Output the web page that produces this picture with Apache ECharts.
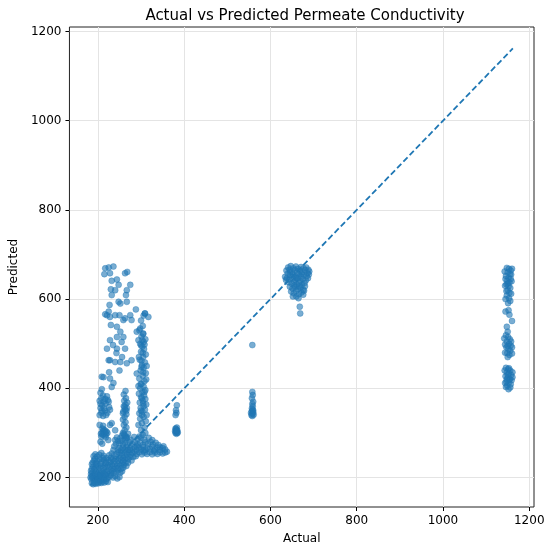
<!DOCTYPE html>
<html>
<head>
<meta charset="utf-8">
<script src="https://cdn.jsdelivr.net/npm/echarts@6/dist/echarts.min.js"></script>
<style>
	html, body { margin: 0; padding: 0; background: #fff; }
	#chart { width: 550px; height: 552px; }
</style>
</head>
<body>
<div id="chart"></div>
<script>
// [actual, predicted] pairs
var lowBand = [
	[186,187],[189,185],[192,188],[195,186],[198,189],[201,187],[204,190],[208,188],[211,191],[215,189],[219,192],[223,190],
	[185,196],[188,199],[191,195],[194,198],[197,201],[200,197],[203,200],[207,203],[210,198],[214,201],[218,204],[222,199],[226,202],[230,205],[235,200],[240,203],[245,198],[250,201],
	[184,208],[187,211],[190,206],[193,210],[196,213],[199,208],[202,212],[206,209],[209,214],[213,210],[217,213],[221,209],[225,214],[229,211],[233,215],[237,210],[242,213],[247,216],[252,211],[256,214],
	[186,220],[189,224],[192,219],[196,223],[200,226],[204,221],[208,225],[212,222],[216,227],[220,223],[224,228],[228,224],[232,229],[236,225],[240,230],[244,226],[248,231],[252,227],[256,232],[260,228],[264,233],
	[188,234],[191,238],[195,233],[199,237],[204,241],[209,236],[214,240],[219,235],[224,239],[229,236],[234,241],[238,237],[242,242],[246,238],[250,243],[254,239],[258,244],[262,240],[266,245],[270,241],[274,246],
	[190,248],[194,252],[198,247],[203,251],[208,255],[213,249],[226,250],[232,254],[238,249],[243,253],[248,257],[252,251],[256,255],[260,250],[264,256],[268,252],[272,257],[276,251],[280,255],[285,258],[290,253],[296,257],[302,252],[308,256],[314,253],[320,257],[326,252],[332,256],[338,253],[344,257],[350,254],[356,256],
	[246,262],[250,266],[254,261],[258,267],[262,263],[266,268],[270,262],[275,266],[280,263],[285,268],[290,262],[295,267],[300,263],[305,268],[310,262],[315,266],[320,264],[326,269],[332,263],[338,267],[344,262],[350,266],[356,263],[360,258],
	[258,274],[263,278],[268,273],[274,279],[280,275],[286,279],[292,274],[298,278],[304,273],[310,279],[316,275],[322,280],[328,274],[334,278],[340,273],
	[262,286],[268,290],[276,285],[284,291],[292,286],[300,290],[308,285],[318,289],[326,284],
	[238,270],[242,276],[247,282],[252,288],[256,294],[244,290],[236,262],[240,284],[250,276],[255,282],[260,298],[265,292],[270,298],
	[198,195],[206,194],[213,196],[220,197],[186,203],[205,205],[216,207],[231,218],[239,219],[246,221],[254,220],[259,222],[266,226],[270,233],[278,238],[282,246],[288,248],
	[196,229],[206,231],[218,232],[230,244],[258,236],[274,262],[290,270],[306,260],[330,260],[344,268],[352,270],[212,244],[220,244],[193,242],[186,230],[184,215],[183,200]
];
var lowColumns = [
	[208,292],[211,296],[214,299],[217,302],[212,304],[209,300],[215,294],[219,297],[213,308],[216,306],[210,310],[220,303],[218,290],[222,300],[207,298],
	[206,280],[210,276],[224,284],[228,318],[232,322],[240,306],[204,318],[212,316],
	[204,340],[208,345],[212,338],[216,350],[206,356],[210,362],[214,355],[218,366],[222,345],[226,358],[204,372],[208,378],[213,370],[217,376],[221,382],[225,370],[209,350],[219,340],[223,374],[228,352],[206,365],
	[206,390],[209,398],[212,384],
	[258,300],[262,306],[266,312],[260,318],[264,324],[258,330],[262,336],[266,342],[259,348],[263,352],[267,356],[260,360],[264,364],[268,368],[261,372],[265,378],[258,344],[266,350],[262,358],[260,386],[264,394],[266,288],[262,294],
	[296,292],[304,296],[310,300],[300,306],[308,312],[294,318],[302,322],[311,326],[298,332],[306,336],[313,340],[296,344],[303,348],[309,352],[299,356],[306,360],[312,364],[297,368],[304,372],[310,376],[300,380],[307,384],[295,388],[303,392],[310,396],[298,400],[306,404],[301,410],[308,416],[296,422],[304,428],[311,434],[299,440],[306,446],[302,452],[309,458],[297,464],[305,470],[311,476],[300,482],[307,488],[303,494],[298,500],[306,504],[310,510],[301,516],[305,522],[296,530],[304,540],[300,552],[306,563],[309,568],
	[302,340],[300,350],[305,366],[302,378],[308,392],[299,410],[305,436],[301,462],[304,480],[300,496],[308,498],[303,508],[295,470],[313,450],[312,420],[294,405]
];
var highScatter = [
	[217,669],[225,671],[236,673],[215,656],[228,658],[263,658],[268,661],[232,641],[244,644],[248,632],[275,632],[230,622],[240,620],[267,620],[232,609],[265,609],
	[248,594],[252,590],[267,594],[227,587],[225,572],[221,564],[217,566],[228,560],[240,564],[250,564],[263,557],[275,564],[278,553],[288,577],[309,568],[317,560],
	[230,542],[244,538],[252,527],[259,515],[244,515],[259,553],[290,527],[298,534],[305,523],[294,508],[228,508],[235,497],[255,504],[263,489],[221,489],[244,489],
	[228,463],[240,459],[252,459],[267,456],[278,463],[225,463],[209,426],[228,422],[290,433],[301,448],
	[243,479],[213,425],[232,403],[236,412],[250,440],[226,436],[256,470]
];
var cluster380 = [
	[380,300],[382,303],[384,306],[381,309],[383,312],[379,304],[385,301],[382,298],[380,310],[384,300],[381,306],[383,304],[380,340],[382,345],[381,351],[383,362]
];
var cluster560 = [
	[556,340],[558,343],[560,346],[557,349],[559,352],[561,341],[555,345],[558,338],[560,350],[557,355],[559,360],[558,365],[560,370],[557,378],[559,385],[558,392],[558,497]
];
var cluster650 = [
	[641,671],[647,674],[653,669],[659,673],[664,668],[671,672],[677,669],[683,671],[688,666],
	[637,664],[644,666],[650,661],[656,665],[662,659],[668,664],[674,661],[680,665],[686,658],[690,662],
	[640,657],[646,653],[652,656],[658,651],[665,655],[671,650],[677,654],[684,651],[689,655],
	[638,647],[644,644],[651,648],[657,643],[663,646],[669,641],[675,645],[682,642],[687,647],
	[642,638],[649,635],[655,639],[661,633],[667,637],[673,632],[679,636],
	[645,628],[651,624],[658,627],[664,622],[670,626],[676,621],[680,629],
	[648,617],[654,613],[660,618],[666,611],[672,615],[678,619],
	[652,606],[660,606],[665,602],[676,610],[668,583],[669,568],[636,643],[634,650],
	[645,660],[660,647],[672,657],[655,630],[666,629]
];
var cluster1150 = [
	[1148,670],[1153,668],[1157,664],[1150,660],[1155,656],[1146,652],[1152,648],[1157,645],[1149,641],[1154,637],[1147,633],[1152,629],[1156,625],[1150,620],[1154,614],[1148,608],[1153,602],[1156,596],[1151,591],[1145,645],[1158,655],[1150,635],
	[1143,662],[1160,668],[1144,630],[1159,640],[1147,618],[1158,612],[1145,600],
	[1145,572],[1152,575],[1154,565],[1160,551],[1148,538],[1150,527],
	[1146,519],[1151,515],[1155,510],[1148,505],[1153,500],[1157,496],[1147,492],[1152,488],[1156,484],[1149,479],[1154,475],[1150,470],[1158,505],[1144,498],
	[1142,512],[1160,492],[1144,480],[1160,478],[1150,495],
	[1146,446],[1151,443],[1156,440],[1148,436],[1153,433],[1158,430],[1145,427],[1150,424],[1155,421],[1159,418],[1147,415],[1152,412],[1157,409],[1149,406],[1154,420],[1150,430],[1146,403],[1152,398],
	[1143,440],[1161,436],[1144,412],[1161,425],[1156,402],[1148,420],[1153,445]
];
var idealLine = [[183,183],[1162,1162]];
var tickValues = [200, 400, 600, 800, 1000, 1200];

var points = [].concat(lowBand, lowColumns, highScatter, cluster380, cluster560, cluster650, cluster1150);

var chart = echarts.init(document.getElementById('chart'));
var font = 'DejaVu Sans';

function makeAxis(name, min, max, gap) {
	return {
		type: 'value',
		name: name,
		nameLocation: 'middle',
		nameGap: gap,
		nameTextStyle: { color: '#000', fontSize: 12, fontFamily: font },
		min: min,
		max: max,
		axisLine: { show: false },
		axisTick: { show: true, inside: false, length: 4, customValues: tickValues, lineStyle: { color: '#000', width: 1 } },
		axisLabel: {
			customValues: tickValues,
			formatter: function (v) { return String(v); },
			color: '#000', fontSize: 12, fontFamily: font, margin: 8
		},
		splitLine: { show: true, lineStyle: { color: '#e4e4e4', width: 1 } }
	};
}

var option = {
	animation: false,
	title: {
		text: 'Actual vs Predicted Permeate Conductivity',
		left: 300,
		textAlign: 'center',
		top: 4,
		textStyle: { color: '#000', fontSize: 15, fontWeight: 'normal', fontFamily: font }
	},
	grid: {
		left: 65,
		top: 27,
		width: 469,
		height: 480,
		show: true,
		borderColor: '#222',
		borderWidth: 1,
		backgroundColor: 'transparent'
	},
	xAxis: makeAxis('Actual', 134, 1211, 26),
	yAxis: makeAxis('Predicted', 134, 1210, 46),
	series: [{
		type: 'scatter',
		data: points,
		symbolSize: 6,
		itemStyle: { color: '#1f77b4', opacity: 0.6, borderColor: '#1f77b4', borderWidth: 0.6 },
		z: 2
	}, {
		type: 'line',
		data: idealLine,
		showSymbol: false,
		symbol: 'none',
		lineStyle: { color: '#1f77b4', width: 1.8, type: [6, 3] },
		z: 3
	}]
};

chart.setOption(option);
</script>
</body>
</html>
